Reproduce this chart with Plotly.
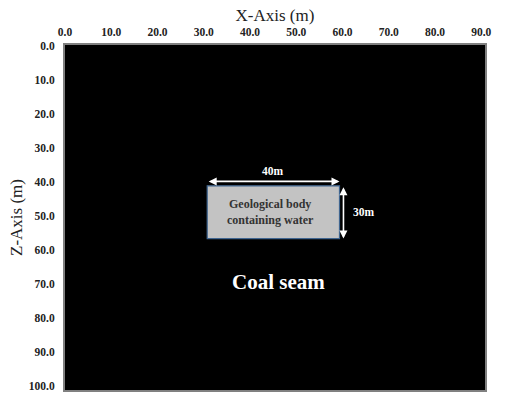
import plotly.graph_objects as go

# Axis tick values (metres)
x_ticks = [0, 10, 20, 30, 40, 50, 60, 70, 80, 90]
z_ticks = [0, 10, 20, 30, 40, 50, 60, 70, 80, 90, 100]

# Schematic model extent (metres) used to place the water-bearing body
model_width = 127
model_depth = 196

# Water-bearing geological body: position and size (metres)
body_left = 43
body_top = 80
body_width = 40
body_height = 30

body_label = "Geological body<br>containing water"
seam_label = "Coal seam"

SERIF = "Liberation Serif"

fig = go.Figure()

# Empty traces so both the labelled axes and the model axes exist
fig.add_trace(go.Scatter(x=[], y=[], xaxis="x", yaxis="y", showlegend=False, hoverinfo="skip"))
fig.add_trace(go.Scatter(x=[], y=[], xaxis="x2", yaxis="y2", showlegend=False, hoverinfo="skip"))

body_right = body_left + body_width
body_bottom = body_top + body_height

# Body rectangle
fig.add_shape(
    type="rect", xref="x2", yref="y2",
    x0=body_left, x1=body_right, y0=body_top, y1=body_bottom,
    fillcolor="#c3c3c3", line=dict(color="#3f6590", width=1.2), layer="above",
)

# Width dimension arrow
arrow_z = body_top - 2.5
fig.add_annotation(
    xref="x2", yref="y2", axref="x2", ayref="y2",
    x=body_right, y=arrow_z, ax=body_left, ay=arrow_z,
    text="", showarrow=True, arrowhead=2, startarrowhead=2, arrowside="end+start",
    arrowcolor="white", arrowwidth=1.6, arrowsize=1, startarrowsize=1,
)
fig.add_annotation(
    xref="x2", yref="y2", x=(body_left + body_right) / 2, y=arrow_z - 1.5,
    text=f"<b>{body_width}m</b>", showarrow=False, yanchor="bottom",
    font=dict(family=SERIF, size=11.5, color="white"),
)

# Height dimension arrow
arrow_x = body_right + 1.2
fig.add_annotation(
    xref="x2", yref="y2", axref="x2", ayref="y2",
    x=arrow_x, y=body_bottom, ax=arrow_x, ay=body_top,
    text="", showarrow=True, arrowhead=2, startarrowhead=2, arrowside="end+start",
    arrowcolor="white", arrowwidth=1.6, arrowsize=1, startarrowsize=1,
)
fig.add_annotation(
    xref="x2", yref="y2", x=arrow_x + 2.2, y=(body_top + body_bottom) / 2,
    text=f"<b>{body_height}m</b>", showarrow=False, xanchor="left",
    font=dict(family=SERIF, size=11.5, color="white"),
)

# Body caption
fig.add_annotation(
    xref="x2", yref="y2", x=(body_left + body_right) / 2 - 1, y=(body_top + body_bottom) / 2,
    text=f"<b>{body_label}</b>", showarrow=False,
    font=dict(family=SERIF, size=12, color="#333333"),
)

# Coal seam label
fig.add_annotation(
    xref="x2", yref="y2", x=64.5, y=134.5,
    text=f"<b>{seam_label}</b>", showarrow=False,
    font=dict(family=SERIF, size=21, color="white"),
)

tick_font = dict(family=SERIF, size=11.5, color="#222222", weight="bold")

fig.update_layout(
    width=509, height=396,
    margin=dict(l=65, r=24, t=45, b=4),
    paper_bgcolor="white", plot_bgcolor="black",
    xaxis=dict(
        side="top", range=[0, 90.8], tickvals=x_ticks, tickformat=".1f",
        tickfont=tick_font, showgrid=False, zeroline=False,
        showline=True, mirror=True, linecolor="#808080", linewidth=2,
        ticks="", ticklabelstandoff=2,
        title=dict(text="X-Axis (m)", font=dict(family=SERIF, size=17, color="#222222"), standoff=0),
    ),
    yaxis=dict(
        range=[101.2, -0.3], tickvals=z_ticks, tickformat=".1f",
        tickfont=tick_font, showgrid=False, zeroline=False,
        showline=True, mirror=True, linecolor="#808080", linewidth=2,
        ticks="", ticklabelstandoff=6,
        title=dict(text="Z-Axis (m)", font=dict(family=SERIF, size=17, color="#222222"), standoff=2),
    ),
    xaxis2=dict(overlaying="x", range=[0, model_width], visible=False),
    yaxis2=dict(overlaying="y", range=[model_depth, 0], visible=False),
    showlegend=False,
)

fig.write_html("out.html")
